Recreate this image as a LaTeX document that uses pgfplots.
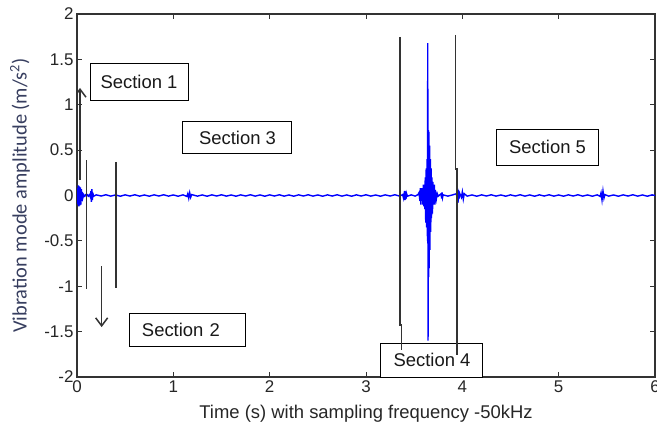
\documentclass[border=0pt]{standalone}
\usepackage{fontspec}
\setmainfont{Liberation Sans}
\newfontfamily\ylfont{Carlito}
\usepackage{pgfplots}
\pgfplotsset{compat=1.18}
\usetikzlibrary{arrows.meta}
\definecolor{mblue}{RGB}{0,0,255}
\definecolor{ylcol}{RGB}{55,62,95}
\begin{document}
\begin{tikzpicture}
\begin{axis}[name=ax,
  scale only axis, width=578bp, height=363bp,
  xmin=0, xmax=6, ymin=-2, ymax=2,
  xtick={0,1,2,3,4,5,6},
  ytick={-2,-1.5,-1,-0.5,0,0.5,1,1.5,2},
  /pgf/number format/assume math mode=true,
  tick label style={font=\fontsize{17}{20}\selectfont, text=black!85},
  tick align=inside, major tick length=5bp,
  axis line style={black!80, line width=1.1bp},
  every tick/.style={black!80, line width=1bp},
  xlabel={Time (s) with sampling frequency -50kHz},
  xlabel style={at={(axis description cs:0.5,-0.1)}, anchor=center, font=\fontsize{18.5}{22}\selectfont, text=black!85},
  ylabel={Vibration mode amplitude (m/s\textsuperscript{2})},
  ylabel style={at={(axis description cs:-0.0986,0.5)}, anchor=center, rotate=0, font=\ylfont\fontsize{20.5}{24}\selectfont, text=ylcol},
  clip mode=individual,
]
\addplot[mblue, line width=1.4bp] coordinates {
(0,0)(0.005,0.08)(0.01,-0.10)(0.015,0.11)(0.02,-0.12)(0.025,0.10)(0.03,-0.11)(0.035,0.09)(0.04,-0.10)(0.045,0.07)(0.05,-0.06)(0.055,0.04)(0.06,-0.03)
(0.07,0.008)(0.08,-0.008)(0.09,0.007)(0.10,-0.007)(0.11,0.007)(0.12,-0.007)(0.13,0.008)(0.14,-0.02)(0.145,0.05)(0.15,-0.07)(0.155,0.07)(0.16,-0.05)(0.165,0.03)(0.17,-0.01)
(0.20,0.007)(0.25,-0.006)(0.30,0.008)(0.35,-0.007)(0.40,0.006)(0.45,-0.008)(0.50,0.007)(0.55,-0.006)(0.60,0.008)(0.65,-0.007)(0.70,0.006)(0.75,-0.008)(0.80,0.007)(0.85,-0.006)(0.90,0.008)(0.95,-0.007)(1.00,0.006)(1.05,-0.008)(1.10,0.007)
(1.14,-0.01)(1.15,0.02)(1.16,-0.03)(1.17,0.03)(1.18,-0.02)(1.19,0.01)
(1.25,-0.007)(1.30,0.006)(1.35,-0.008)(1.40,0.007)(1.45,-0.006)(1.50,0.008)(1.55,-0.007)(1.60,0.006)(1.65,-0.008)(1.70,0.007)(1.75,-0.006)(1.80,0.008)(1.85,-0.007)(1.90,0.006)(1.95,-0.008)(2.00,0.007)(2.05,-0.006)(2.10,0.008)(2.15,-0.007)(2.20,0.006)(2.25,-0.008)(2.30,0.007)(2.35,-0.006)(2.40,0.008)(2.45,-0.007)(2.50,0.006)(2.55,-0.008)(2.60,0.007)(2.65,-0.006)(2.70,0.008)(2.75,-0.007)(2.80,0.006)(2.85,-0.008)(2.90,0.007)(2.95,-0.006)(3.00,0.008)(3.05,-0.007)(3.10,0.006)(3.15,-0.008)(3.20,0.007)(3.25,-0.006)(3.30,0.008)(3.35,-0.007)
(3.38,0.01)(3.39,-0.03)(3.40,0.05)(3.405,-0.05)(3.41,0.045)(3.415,-0.04)(3.42,0.025)(3.43,-0.008)(3.47,0.007)(3.51,-0.007)(3.54,0.01)
(3.55,0.03)(3.56,-0.06)(3.565,0.08)(3.57,-0.10)(3.575,0.08)(3.58,-0.06)(3.585,0.08)(3.59,-0.10)(3.595,0.12)(3.60,-0.12)(3.605,0.10)(3.61,-0.15)(3.615,0.20)(3.62,-0.30)(3.625,0.30)(3.63,-0.35)(3.635,0.40)(3.638,-0.50)(3.641,1.68)(3.644,-1.60)(3.647,0.72)(3.65,-0.90)(3.653,0.70)(3.656,-0.80)(3.66,0.55)(3.664,-0.60)(3.668,0.40)(3.672,-0.40)(3.676,0.30)(3.68,-0.25)(3.685,0.20)(3.69,-0.20)(3.695,0.15)(3.70,-0.10)(3.71,0.12)(3.715,-0.10)(3.72,0.06)(3.73,-0.04)(3.74,0.02)
(3.75,-0.008)(3.78,0.02)(3.785,-0.035)(3.79,0.035)(3.795,-0.02)(3.80,0.007)(3.85,-0.007)(3.90,0.007)(3.94,0.02)(3.945,-0.06)(3.95,0.08)(3.955,-0.08)(3.96,0.06)(3.965,-0.04)(3.97,0.03)(3.99,-0.02)(4.00,0.04)(4.01,-0.04)(4.02,0.02)
(4.05,-0.007)(4.10,0.006)(4.15,-0.008)(4.20,0.007)(4.25,-0.006)(4.30,0.008)(4.35,-0.007)(4.40,0.006)(4.45,-0.008)(4.50,0.007)(4.55,-0.006)(4.60,0.008)(4.65,-0.007)(4.70,0.006)(4.75,-0.008)(4.80,0.007)(4.85,-0.006)(4.90,0.008)(4.95,-0.007)(5.00,0.006)(5.05,-0.008)(5.10,0.007)(5.15,-0.006)(5.20,0.008)(5.25,-0.007)(5.30,0.006)(5.35,-0.008)(5.40,0.007)
(5.43,-0.01)(5.44,0.03)(5.45,-0.05)(5.46,0.05)(5.47,-0.03)(5.48,0.01)
(5.52,-0.007)(5.57,0.006)(5.62,-0.008)(5.67,0.007)(5.72,-0.006)(5.77,0.008)(5.82,-0.007)(5.87,0.006)(5.92,-0.008)(5.97,0.007)(6.00,0)
};
% section boxes
\tikzset{secbox/.style={draw=black, line width=1bp, fill=white, font=\fontsize{18.5}{22}\selectfont, inner sep=0pt, text=black!90}}
\node[secbox, minimum width=98bp, minimum height=37bp] at (axis cs:0.644,1.256) {Section 1};
\node[secbox, minimum width=109bp, minimum height=32bp] at (axis cs:1.666,0.634) {Section 3};
\node[secbox, minimum width=101bp, minimum height=36bp] at (axis cs:4.884,0.534) {Section 5};
\node[secbox, minimum width=116bp, minimum height=33bp, text width=92bp, inner xsep=12bp, align=left] at (axis cs:1.152,-1.477) {Section 2};
\node[secbox, minimum width=102bp, minimum height=34bp] at (axis cs:3.685,-1.813) {Section 4};
% annotation lines
\addplot[black!80, line width=1.5bp, -{Straight Barb[length=8bp,width=12bp,line width=1.5bp]}] coordinates {(0.031,0.17)(0.031,1.185)};
\addplot[black!80, line width=1.5bp, -{Straight Barb[length=8bp,width=12bp,line width=1.5bp]}] coordinates {(0.256,-0.78)(0.256,-1.45)};
\addplot[black!80, line width=1.4bp] coordinates {(0.10,0.39)(0.10,-1.03)};
\addplot[black!80, line width=1.4bp] coordinates {(0.405,0.37)(0.405,-1.02)};
\addplot[black!80, line width=1.4bp] coordinates {(3.353,1.747)(3.353,-1.427)(3.371,-1.427)(3.371,-1.70)};
\addplot[black!80, line width=1.4bp] coordinates {(3.927,1.769)(3.927,0.292)(3.945,0.292)(3.945,-1.757)};
\end{axis}
\pgfresetboundingbox
\path ([shift={(-77bp,-57bp)}]ax.south west) rectangle ([shift={(2bp,14bp)}]ax.north east);
\end{tikzpicture}
\end{document}
